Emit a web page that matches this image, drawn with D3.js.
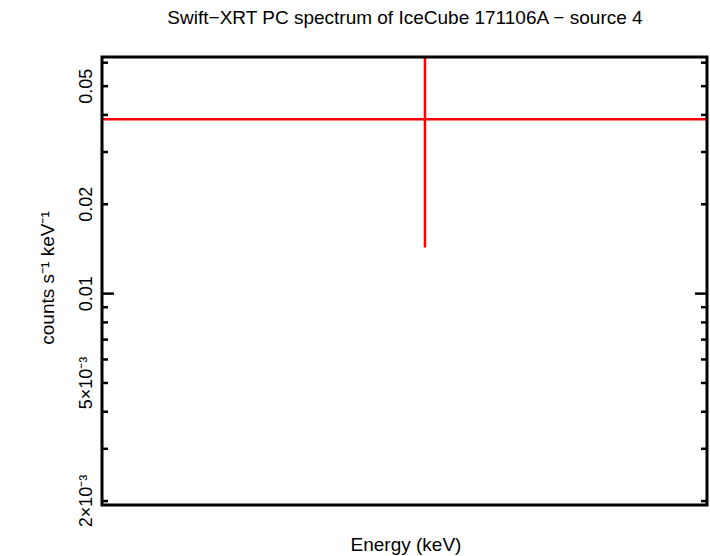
<!DOCTYPE html>
<html><head><meta charset="utf-8">
<script src="https://cdn.jsdelivr.net/npm/d3@7"></script>
<style>body{margin:0;background:#fff}text{font-family:"Liberation Sans",Arial,sans-serif}</style>
</head><body>
<script>
const title = "Swift\u2212XRT PC spectrum of IceCube 171106A \u2212 source 4";
const energy = [1.048];
const energyLo = [0.3];
const energyHi = [3.5];
const rate = [0.0387];
const rateLo = [0.0143];
const rateHi = [0.09];
const majorTicks = [0.002, 0.005, 0.01, 0.02, 0.05];
const majorLabels = ["2\u00d710\u207b\u00b3", "5\u00d710\u207b\u00b3", "0.01", "0.02", "0.05"];
const minorTicks = [0.003,0.004,0.006,0.007,0.008,0.009,0.03,0.04,0.06];

const W=710,H=556, L=102,R=707,T=57,B=505;
const svg=d3.select("body").append("svg").attr("width",W).attr("height",H);
const x=d3.scaleLog().domain([0.5,2]).range([L,R]);
const y=d3.scaleLog().domain([0.00194,0.0627]).range([B,T]);
svg.append("defs").append("clipPath").attr("id","c").append("rect").attr("x",L).attr("y",T).attr("width",R-L).attr("height",B-T);
const g=svg.append("g").attr("clip-path","url(#c)");
energy.forEach((e,i)=>{
  g.append("line").attr("x1",x(energyLo[i])).attr("x2",x(energyHi[i])).attr("y1",y(rate[i])).attr("y2",y(rate[i])).attr("stroke","#f00").attr("stroke-width",2.5);
  g.append("line").attr("x1",x(e)).attr("x2",x(e)).attr("y1",y(rateLo[i])).attr("y2",y(rateHi[i])).attr("stroke","#f00").attr("stroke-width",2.5);
});
svg.append("rect").attr("x",L).attr("y",T).attr("width",R-L).attr("height",B-T).attr("fill","none").attr("stroke","#000").attr("stroke-width",3);
const tick=(v,len)=>{
  svg.append("line").attr("x1",L).attr("x2",L+len).attr("y1",y(v)).attr("y2",y(v)).attr("stroke","#000").attr("stroke-width",2.5);
  svg.append("line").attr("x1",R).attr("x2",R-len).attr("y1",y(v)).attr("y2",y(v)).attr("stroke","#000").attr("stroke-width",2.5);
};
majorTicks.forEach(v=>tick(v, v===0.01?12:6));
minorTicks.forEach(v=>tick(v,6));
majorTicks.forEach((v,i)=>{
  svg.append("text").attr("transform",`translate(92,${y(v)}) rotate(-90)`).attr("text-anchor","middle").attr("font-size",18).text(majorLabels[i]);
});
svg.append("text").attr("transform",`translate(54,${(T+B)/2-3}) rotate(-90)`).attr("text-anchor","middle").attr("font-size",19).text("counts s\u207b\u00b9 keV\u207b\u00b9");
svg.append("text").attr("x",406).attr("y",551).attr("text-anchor","middle").attr("font-size",19).text("Energy (keV)");
svg.append("text").attr("x",405).attr("y",24).attr("text-anchor","middle").attr("font-size",19).text(title);
</script>
</body></html>
